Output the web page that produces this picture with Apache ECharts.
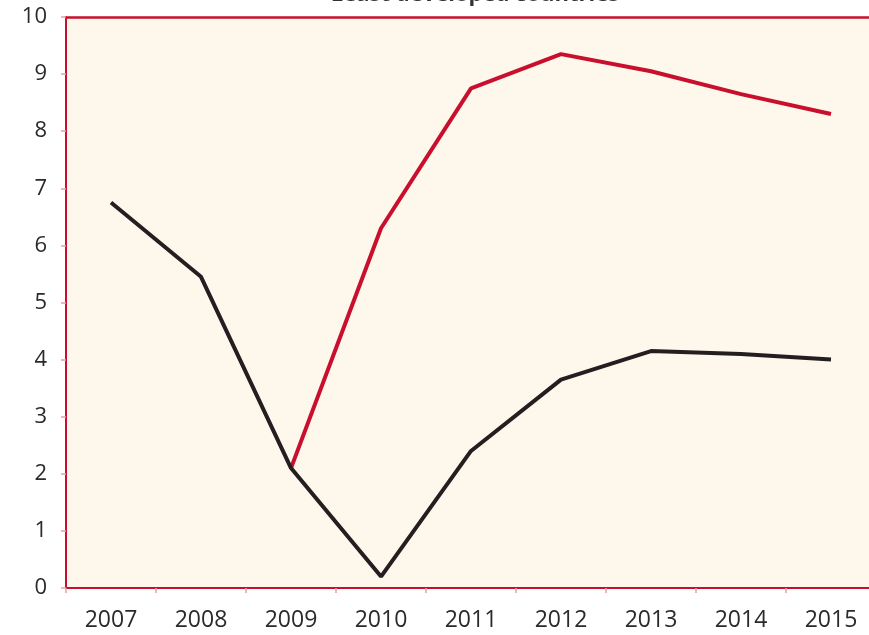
<!DOCTYPE html>
<html><head><meta charset="utf-8">
<script src="https://cdn.jsdelivr.net/npm/echarts@6/dist/echarts.min.js"></script>
<style>html,body{margin:0;padding:0;background:#fff}#c{width:869px;height:635px}</style>
</head><body><div id="c"></div>
<script>
const titleText = "Least developed countries";
const years = ["2007","2008","2009","2010","2011","2012","2013","2014","2015"];
const blackSeries = [6.75, 5.45, 2.1, 0.2, 2.4, 3.65, 4.15, 4.1, 4.0];
const redSeries = [null, null, 2.1, 6.3, 8.75, 9.35, 9.05, 8.65, 8.3];
const yTicks = [0,1,2,3,4,5,6,7,8,9,10];

const chart = echarts.init(document.getElementById('c'), null, {renderer:'canvas'});
chart.setOption({
  animation:false,
  backgroundColor:'#ffffff',
  title:{text:titleText,left:470,textAlign:'center',top:-21.5,textStyle:{fontFamily:'Open Sans',fontWeight:'bold',fontSize:22,color:'#333'}},
  grid:{left:66,top:17,width:810,height:571,containLabel:false,outerBoundsMode:'none',show:true,backgroundColor:'#fef7ec',borderWidth:0},
  xAxis:[{type:'category',data:years,boundaryGap:true,
    axisLine:{lineStyle:{color:'#c8102e',width:2}},
    axisTick:{show:true,length:5,lineStyle:{color:'#e8a0a0',width:1.5}},
    axisLabel:{margin:21,fontFamily:'Open Sans',fontSize:23,color:'#2a2a2a'}},
    {type:'category',data:years,position:'top',boundaryGap:true,
    axisLine:{show:true,lineStyle:{color:'#c8102e',width:2.5}},
    axisTick:{show:false},axisLabel:{show:false}}],
  yAxis:{type:'value',min:yTicks[0],max:yTicks[yTicks.length-1],interval:1,
    axisLine:{show:true,lineStyle:{color:'#c8102e',width:2}},
    axisTick:{show:true,length:5,lineStyle:{color:'#e8a0a0',width:1.5}},
    splitLine:{show:false},
    axisLabel:{margin:19,fontFamily:'Open Sans',fontSize:22,color:'#2a2a2a'}},
  series:[
    {type:'line',name:'Red',data:redSeries,showSymbol:false,symbol:'none',lineStyle:{color:'#c8102e',width:4},itemStyle:{color:'#c8102e'},z:2},
    {type:'line',name:'Black',data:blackSeries,showSymbol:false,symbol:'none',lineStyle:{color:'#231f20',width:4},itemStyle:{color:'#231f20'},z:3}
  ]
});
</script></body></html>
